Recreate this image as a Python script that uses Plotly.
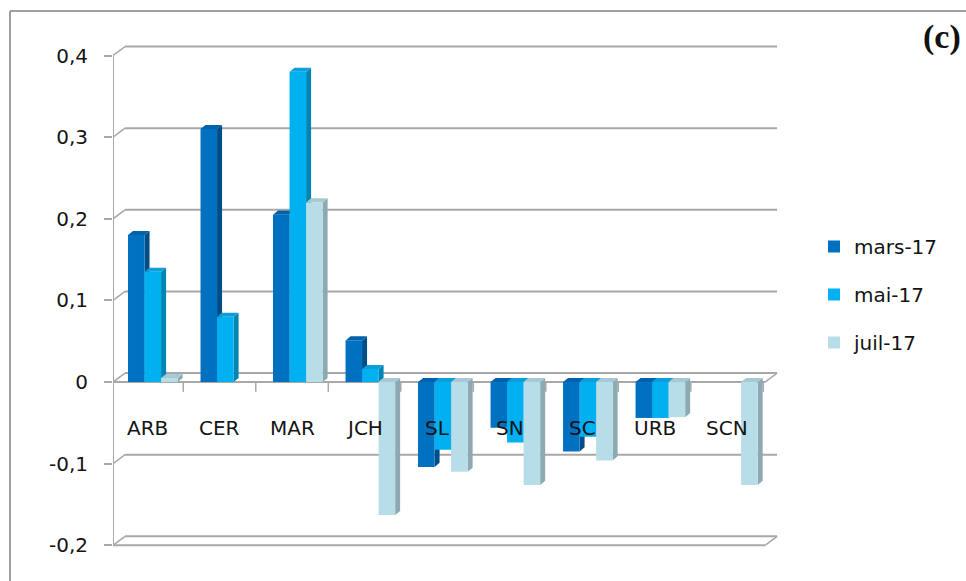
import plotly.graph_objects as go

# Land-cover classes and the three survey dates
categories = ["ARB", "CER", "MAR", "JCH", "SL", "SN", "SC", "URB", "SCN"]
series_names = ["mars-17", "mai-17", "juil-17"]
mars_17 = [0.18, 0.31, 0.205, 0.051, -0.104, -0.056, -0.085, -0.044, 0.0]
mai_17 = [0.135, 0.08, 0.38, 0.016, -0.083, -0.074, -0.067, -0.044, 0.0]
juil_17 = [0.005, 0.0, 0.22, -0.163, -0.11, -0.126, -0.096, -0.043, -0.126]
y_ticks = [0.4, 0.3, 0.2, 0.1, 0.0, -0.1, -0.2]
y_tick_text = ["0,4", "0,3", "0,2", "0,1", "0", "-0,1", "-0,2"]

values = [mars_17, mai_17, juil_17]
front = ["#0070C0", "#00B0F0", "#B7DDE8"]
side = ["#004E87", "#0085B5", "#8DAAB3"]
top = ["#0062AA", "#0A9FDA", "#A6C9D3"]

FONT = "DejaVu Sans, Verdana, sans-serif"
TEXT_COL = "#141414"

# plot area in pixels: left 113, right 780, top 40, bottom 560
PL, PR, PT, PB = 113, 780, 40, 560
PW, PH = PR - PL, PB - PT


def px_x(px):
    return (px - PL) / PW


def px_y(py):
    return (PB - py) / PH


X_MIN, X_MAX = -0.469, 8.73
Y_MIN, Y_MAX = -0.218, 0.419
BAR_W = 0.228
OFFSETS = [-0.262, -0.034, 0.194]
DX, DY = 0.069, 0.005          # depth of the bar side/top faces
GX, GY = 0.166, 0.011          # depth of the back wall
GRID_END = 8.69
FLOOR_FRONT_END = GRID_END - GX
idx = list(range(len(categories)))

fig = go.Figure()
for name, vals, col, off in zip(series_names, values, front, OFFSETS):
    fig.add_trace(go.Bar(
        x=idx, y=vals, name=name, legendgroup=name,
        offset=off, width=BAR_W, marker=dict(color=col, line=dict(width=0)),
    ))

shapes = []
grid_col = "#A8A8A8"
# back-wall gridlines with their diagonal link to the front axis
for v in y_ticks:
    shapes.append(dict(type="line", xref="x", yref="y", x0=X_MIN + GX, x1=GRID_END,
                       y0=v + GY, y1=v + GY, line=dict(color=grid_col, width=2), layer="below"))
    shapes.append(dict(type="line", xref="x", yref="y", x0=X_MIN, x1=X_MIN + GX,
                       y0=v, y1=v + GY, line=dict(color=grid_col, width=1.5), layer="below"))
# front edges of the zero plane and of the floor
for v in (0.0, -0.2):
    shapes.append(dict(type="line", xref="x", yref="y", x0=X_MIN, x1=FLOOR_FRONT_END,
                       y0=v, y1=v, line=dict(color=grid_col, width=2), layer="below"))
    shapes.append(dict(type="line", xref="x", yref="y", x0=FLOOR_FRONT_END, x1=GRID_END,
                       y0=v, y1=v + GY, line=dict(color=grid_col, width=1.5), layer="below"))
# category separators on the zero plane
for i in idx:
    shapes.append(dict(type="line", xref="x", yref="y", x0=i + 0.5, x1=i + 0.5,
                       y0=0, y1=-0.012, line=dict(color=grid_col, width=1.5), layer="below"))
# vertical value axis
shapes.append(dict(type="line", xref="x", yref="y", x0=X_MIN, x1=X_MIN,
                   y0=-0.2, y1=0.4, line=dict(color=grid_col, width=2), layer="below"))

# side and top faces of each bar (the top face sits on the zero plane for negative bars)
for vals, sc, tc, off in zip(values, side, top, OFFSETS):
    for i, v in zip(idx, vals):
        if v == 0:
            continue
        xl = i + off
        xr = xl + BAR_W
        shapes.append(dict(
            type="path", xref="x", yref="y", layer="below",
            path=f"M {xr},0 L {xr},{v} L {xr + DX},{v + DY} L {xr + DX},{DY} Z",
            fillcolor=sc, line=dict(width=0)))
        h = max(v, 0)
        shapes.append(dict(
            type="path", xref="x", yref="y", layer="below",
            path=f"M {xl},{h} L {xr},{h} L {xr + DX},{h + DY} L {xl + DX},{h + DY} Z",
            fillcolor=tc, line=dict(width=0)))

# outer chart frame
shapes.append(dict(type="line", xref="paper", yref="paper", x0=px_x(10), x1=px_x(980),
                   y0=px_y(11), y1=px_y(11), line=dict(color="#A0A0A0", width=2)))
shapes.append(dict(type="line", xref="paper", yref="paper", x0=px_x(10), x1=px_x(10),
                   y0=px_y(11), y1=px_y(600), line=dict(color="#A0A0A0", width=2)))

annotations = [
    dict(x=i, y=0, xref="x", yref="y", text=c, showarrow=False, yanchor="middle",
         yshift=-46, font=dict(family=FONT, size=20, color=TEXT_COL))
    for i, c in zip(idx, categories)
]
annotations.append(dict(
    x=px_x(963), y=px_y(37), xref="paper", yref="paper", text="<b>(c)</b>",
    showarrow=False, xanchor="right", yanchor="middle",
    font=dict(family="Liberation Serif, serif", size=34, color="#111")))

fig.update_layout(
    width=966, height=581,
    margin=dict(l=PL, r=966 - PR, t=PT, b=581 - PB),
    paper_bgcolor="white", plot_bgcolor="white",
    showlegend=True, barmode="overlay",
    xaxis=dict(range=[X_MIN, X_MAX], showgrid=False, zeroline=False, showticklabels=False,
               showline=False, ticks=""),
    yaxis=dict(range=[Y_MIN, Y_MAX], tickvals=y_ticks, ticktext=y_tick_text,
               showgrid=False, zeroline=False, showline=False, ticks="outside",
               ticklen=8, tickcolor=grid_col, tickwidth=2, ticklabelstandoff=12,
               tickfont=dict(family=FONT, size=20, color=TEXT_COL)),
    legend=dict(xref="container", yref="container", x=814 / 966, y=1 - 227 / 581,
                xanchor="left", yanchor="top", traceorder="grouped", tracegroupgap=19,
                font=dict(family=FONT, size=20, color=TEXT_COL),
                itemwidth=30, bgcolor="rgba(0,0,0,0)"),
    shapes=shapes,
    annotations=annotations,
)

fig.write_html("out.html")
